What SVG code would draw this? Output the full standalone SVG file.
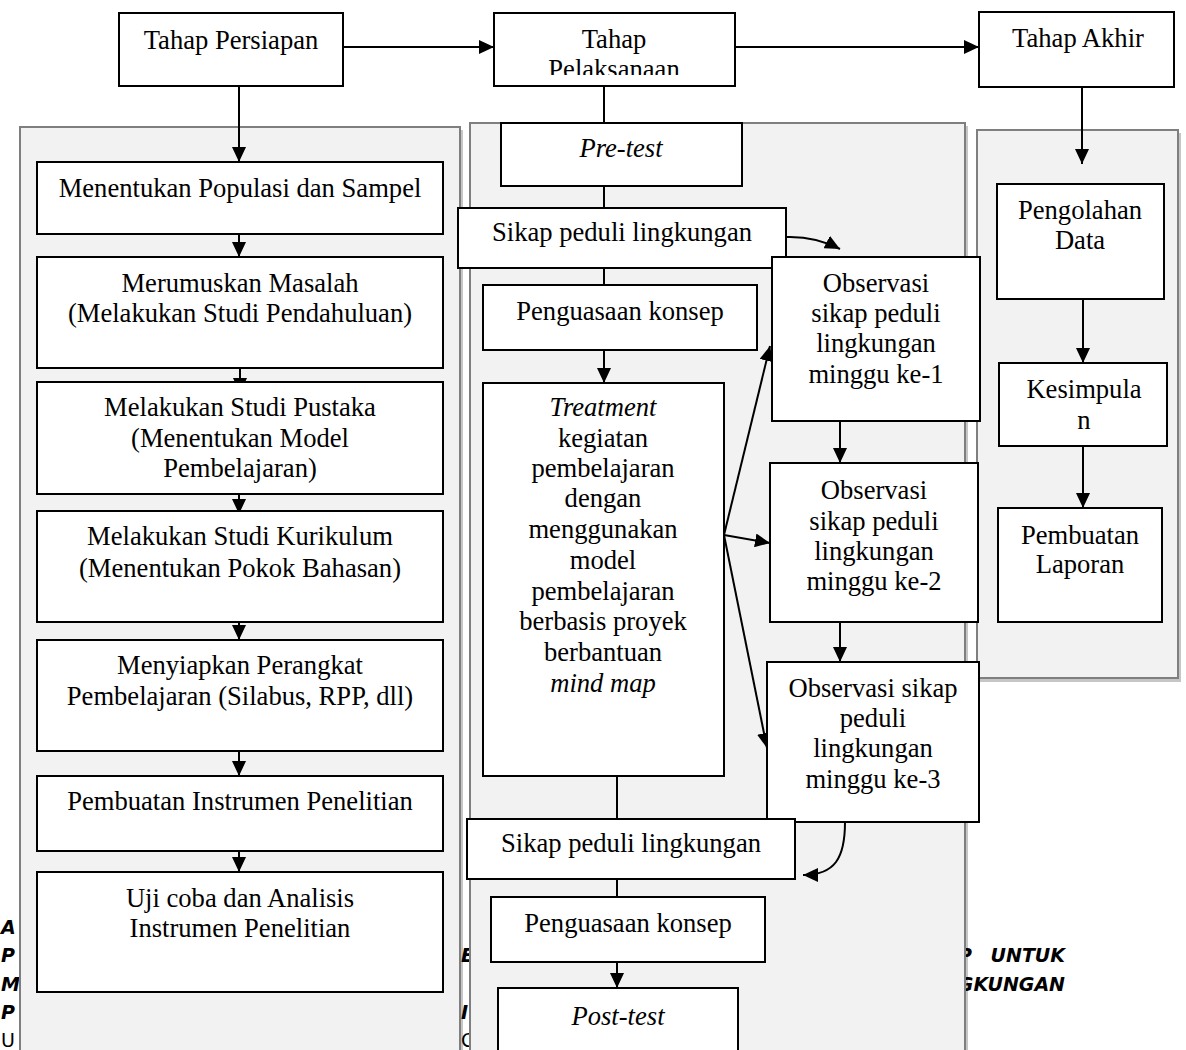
<svg xmlns="http://www.w3.org/2000/svg" width="1186" height="1050" viewBox="0 0 1186 1050">
<style>
.box{fill:#fff;stroke:#000;stroke-width:2}
.panel{fill:#f2f2f2;stroke:#7f7f7f;stroke-width:2}
.shadow{fill:#c6c6c6}
.t{font-family:"Liberation Serif","Times New Roman",serif;font-size:26.6px;fill:#000;text-anchor:middle}
.i{font-style:italic}
.c{stroke:#000;stroke-width:2;fill:none}
.a{stroke:#000;stroke-width:2;fill:none;marker-end:url(#ah)}
.bg{font-family:"DejaVu Sans",sans-serif;font-weight:bold;font-style:italic;font-size:19px;fill:#000}
.bgr{font-family:"DejaVu Sans",sans-serif;font-size:19px;fill:#000}
</style>
<defs>
<marker id="ah" markerWidth="15" markerHeight="14" refX="15" refY="7" orient="auto" markerUnits="userSpaceOnUse">
<path d="M0,0 L15,7 L0,14 z" fill="#000"/>
</marker>
<clipPath id="clipPel"><rect x="494" y="13" width="241" height="62"/></clipPath>
</defs>
<rect width="1186" height="1050" fill="#fff"/>

<g id="panel-shadows">
<rect class="shadow" x="23" y="130" width="440" height="930"/>
<rect class="shadow" x="473" y="126" width="495" height="934"/>
<rect class="shadow" x="980" y="133" width="201" height="549"/>
</g>

<g id="background-text">
<text class="bg" x="1" y="934">A</text>
<text class="bg" x="1" y="962">P</text>
<text class="bg" x="1" y="991">M</text>
<text class="bg" x="1" y="1019">P</text>
<text class="bgr" x="1" y="1047">U</text>
<text class="bg" x="461" y="962">E</text>
<text class="bg" x="461" y="1019">I</text>
<text class="bgr" x="461" y="1047">C</text>
<text class="bg" x="972" y="962" text-anchor="end">P</text>
<text class="bg" x="1065" y="962" text-anchor="end">UNTUK</text>
<text class="bg" x="1065" y="991" text-anchor="end">GKUNGAN</text>
</g>

<g id="panels">
<rect class="panel" x="20" y="127" width="440" height="940"/>
<rect class="panel" x="470" y="123" width="495" height="944"/>
<rect class="panel" x="977" y="130" width="201" height="548"/>
</g>

<g id="connectors">
<line class="a" x1="343" y1="47" x2="494" y2="47"/>
<line class="a" x1="735" y1="47" x2="979" y2="47"/>
<line class="a" x1="239" y1="86" x2="239" y2="162"/>
<line class="a" x1="239" y1="234" x2="239" y2="257"/>
<line class="a" x1="240" y1="368" x2="240" y2="393"/>
<line class="a" x1="239" y1="494" x2="239" y2="514"/>
<line class="a" x1="239" y1="622" x2="239" y2="640"/>
<line class="a" x1="239" y1="751" x2="239" y2="776"/>
<line class="a" x1="239" y1="851" x2="239" y2="872"/>
<line class="c" x1="604" y1="86" x2="604" y2="123"/>
<line class="c" x1="604" y1="186" x2="604" y2="208"/>
<line class="c" x1="604" y1="268" x2="604" y2="285"/>
<line class="a" x1="604" y1="350" x2="604" y2="383"/>
<path class="a" d="M786,237 Q815,236 840,249"/>
<line class="a" x1="724" y1="535" x2="770" y2="346"/>
<line class="a" x1="724" y1="535" x2="770" y2="543"/>
<line class="a" x1="724" y1="535" x2="767" y2="748"/>
<line class="a" x1="840" y1="421" x2="840" y2="463"/>
<line class="a" x1="840" y1="622" x2="840" y2="662"/>
<path class="a" d="M845,822 C845,858 835,875 803,875"/>
<line class="c" x1="617" y1="776" x2="617" y2="819"/>
<line class="c" x1="617" y1="879" x2="617" y2="897"/>
<line class="a" x1="617" y1="962" x2="617" y2="988"/>
<line class="a" x1="1082" y1="87" x2="1082" y2="164"/>
<line class="a" x1="1083" y1="299" x2="1083" y2="363"/>
<line class="a" x1="1083" y1="446" x2="1083" y2="508"/>
</g>

<g id="tahap-persiapan">
<rect class="box" x="119" y="13" width="224" height="73"/>
<text class="t" x="231" y="49">Tahap Persiapan</text>
</g>
<g id="tahap-pelaksanaan">
<rect class="box" x="494" y="13" width="241" height="73"/>
<g clip-path="url(#clipPel)">
<text class="t" x="614" y="48">Tahap</text>
<text class="t" x="614" y="78">Pelaksanaan</text>
</g>
</g>
<g id="tahap-akhir">
<rect class="box" x="979" y="12" width="195" height="75"/>
<text class="t" x="1078" y="47">Tahap Akhir</text>
</g>

<g id="menentukan-populasi">
<rect class="box" x="37" y="162" width="406" height="72"/>
<text class="t" x="240" y="197">Menentukan Populasi dan Sampel</text>
</g>
<g id="merumuskan-masalah">
<rect class="box" x="37" y="257" width="406" height="111"/>
<text class="t" x="240" y="292">Merumuskan Masalah</text>
<text class="t" x="240" y="322">(Melakukan Studi Pendahuluan)</text>
</g>
<g id="studi-pustaka">
<rect class="box" x="37" y="382" width="406" height="112"/>
<text class="t" x="240" y="416">Melakukan Studi Pustaka</text>
<text class="t" x="240" y="447">(Menentukan Model</text>
<text class="t" x="240" y="477">Pembelajaran)</text>
</g>
<g id="studi-kurikulum">
<rect class="box" x="37" y="511" width="406" height="111"/>
<text class="t" x="240" y="545">Melakukan Studi Kurikulum</text>
<text class="t" x="240" y="577">(Menentukan Pokok Bahasan)</text>
</g>
<g id="menyiapkan-perangkat">
<rect class="box" x="37" y="640" width="406" height="111"/>
<text class="t" x="240" y="674">Menyiapkan Perangkat</text>
<text class="t" x="240" y="705">Pembelajaran (Silabus, RPP, dll)</text>
</g>
<g id="pembuatan-instrumen">
<rect class="box" x="37" y="776" width="406" height="75"/>
<text class="t" x="240" y="810">Pembuatan Instrumen Penelitian</text>
</g>
<g id="uji-coba">
<rect class="box" x="37" y="872" width="406" height="120"/>
<text class="t" x="240" y="907">Uji coba dan Analisis</text>
<text class="t" x="240" y="937">Instrumen Penelitian</text>
</g>

<g id="pre-test">
<rect class="box" x="501" y="123" width="241" height="63"/>
<text class="t i" x="621" y="157">Pre-test</text>
</g>
<g id="sikap-peduli-1">
<rect class="box" x="458" y="208" width="328" height="60"/>
<text class="t" x="622" y="241">Sikap peduli lingkungan</text>
</g>
<g id="penguasaan-konsep-1">
<rect class="box" x="483" y="285" width="274" height="65"/>
<text class="t" x="620" y="320">Penguasaan konsep</text>
</g>
<g id="treatment">
<rect class="box" x="483" y="383" width="241" height="393"/>
<text class="t i" x="603" y="416">Treatment</text>
<text class="t" x="603" y="447">kegiatan</text>
<text class="t" x="603" y="477">pembelajaran</text>
<text class="t" x="603" y="507">dengan</text>
<text class="t" x="603" y="538">menggunakan</text>
<text class="t" x="603" y="569">model</text>
<text class="t" x="603" y="600">pembelajaran</text>
<text class="t" x="603" y="630">berbasis proyek</text>
<text class="t" x="603" y="661">berbantuan</text>
<text class="t i" x="603" y="692">mind map</text>
</g>
<g id="observasi-1">
<rect class="box" x="772" y="257" width="208" height="164"/>
<text class="t" x="876" y="292">Observasi</text>
<text class="t" x="876" y="322">sikap peduli</text>
<text class="t" x="876" y="352">lingkungan</text>
<text class="t" x="876" y="383">minggu ke-1</text>
</g>
<g id="observasi-2">
<rect class="box" x="770" y="463" width="208" height="159"/>
<text class="t" x="874" y="499">Observasi</text>
<text class="t" x="874" y="530">sikap peduli</text>
<text class="t" x="874" y="560">lingkungan</text>
<text class="t" x="874" y="590">minggu ke-2</text>
</g>
<g id="observasi-3">
<rect class="box" x="767" y="662" width="212" height="160"/>
<text class="t" x="873" y="697">Observasi sikap</text>
<text class="t" x="873" y="727">peduli</text>
<text class="t" x="873" y="757">lingkungan</text>
<text class="t" x="873" y="788">minggu ke-3</text>
</g>
<g id="sikap-peduli-2">
<rect class="box" x="467" y="819" width="328" height="60"/>
<text class="t" x="631" y="852">Sikap peduli lingkungan</text>
</g>
<g id="penguasaan-konsep-2">
<rect class="box" x="491" y="897" width="274" height="65"/>
<text class="t" x="628" y="932">Penguasaan konsep</text>
</g>
<g id="post-test">
<rect class="box" x="498" y="988" width="240" height="80"/>
<text class="t i" x="618" y="1025">Post-test</text>
</g>

<g id="pengolahan-data">
<rect class="box" x="997" y="184" width="167" height="115"/>
<text class="t" x="1080" y="219">Pengolahan</text>
<text class="t" x="1080" y="249">Data</text>
</g>
<g id="kesimpulan">
<rect class="box" x="999" y="363" width="168" height="83"/>
<text class="t" x="1084" y="398">Kesimpula</text>
<text class="t" x="1084" y="429">n</text>
</g>
<g id="pembuatan-laporan">
<rect class="box" x="998" y="508" width="164" height="114"/>
<text class="t" x="1080" y="544">Pembuatan</text>
<text class="t" x="1080" y="573">Laporan</text>
</g>
</svg>
